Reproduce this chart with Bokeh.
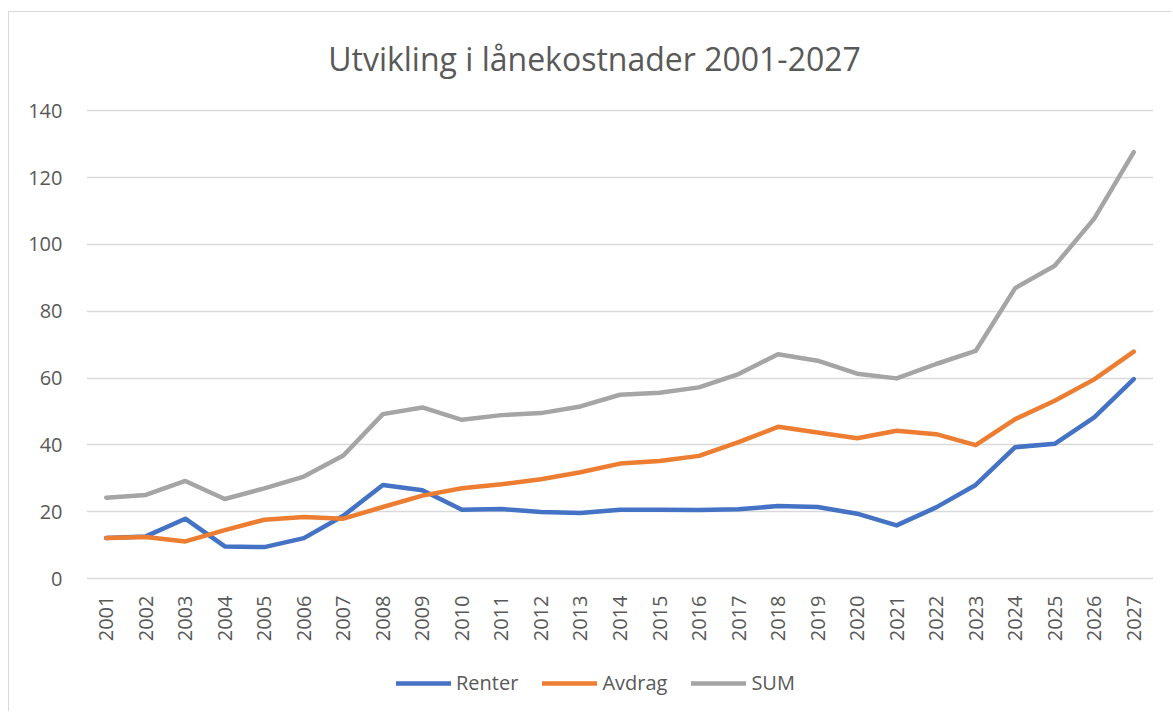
from math import pi
from bokeh.plotting import figure
from bokeh.models import FactorRange, Range1d, FixedTicker, Legend, LegendItem, Label, ColumnDataSource
from bokeh.core.properties import value
from bokeh.embed import file_html
from bokeh.resources import INLINE

years = [str(y) for y in range(2001, 2028)]
renter = [12.1, 12.6, 17.9, 9.6, 9.4, 12.1, 18.8, 28.0, 26.4, 20.6, 20.8, 19.9, 19.6, 20.6,
          20.6, 20.5, 20.7, 21.7, 21.4, 19.4, 15.9, 21.3, 28.0, 39.3, 40.3, 48.2, 59.7]
avdrag = [12.1, 12.4, 11.1, 14.5, 17.6, 18.4, 17.9, 21.4, 24.8, 27.0, 28.2, 29.7, 31.8, 34.4,
          35.2, 36.7, 40.8, 45.4, 43.7, 42.0, 44.2, 43.2, 39.9, 47.7, 53.2, 59.6, 67.9]
total = [24.2, 25.0, 29.2, 23.8, 27.0, 30.5, 36.8, 49.2, 51.2, 47.5, 48.9, 49.5, 51.5, 55.0,
         55.6, 57.2, 61.2, 67.1, 65.2, 61.3, 59.9, 64.2, 68.1, 86.9, 93.6, 107.7, 127.6]
series_names = ["Renter", "Avdrag", "SUM"]
colors = ["#4472C4", "#ED7D31", "#A5A5A5"]
y_ticks = [0, 20, 40, 60, 80, 100, 120, 140]
title_text = "Utvikling i lånekostnader 2001-2027"

FONT = "Open Sans"
TXT = "#595959"

# frame spans the full canvas height so that title and legend (inside it) are not clipped
p = figure(width=1163, height=700, x_range=FactorRange(factors=years), y_range=Range1d(-40.1, 169.4),
           output_backend="svg", toolbar_location=None, title=None,
           min_border_left=77, min_border_right=19, min_border_top=0, min_border_bottom=0)
p.outline_line_color = None
p.background_fill_color = "white"
p.border_fill_color = "white"
p.styles = {"border-top": "1.5px solid #d9d9d9", "border-left": "1.5px solid #d9d9d9",
            "margin-top": "11px", "margin-left": "8px"}

renderers = []
for name, vals, c in zip(series_names, [renter, avdrag, total], colors):
    r = p.line(years, vals, line_color=c, line_width=4.5, line_cap="round", line_join="round")
    renderers.append(r)

p.xaxis.visible = False
p.xgrid.visible = False
p.ygrid.grid_line_color = "#d9d9d9"
p.ygrid.grid_line_width = 1.5
p.yaxis.ticker = FixedTicker(ticks=y_ticks)

ax = p.yaxis[0]
ax.axis_line_color = None
ax.major_tick_line_color = None
ax.minor_tick_line_color = None
ax.major_tick_out = 0
ax.major_tick_in = 0
ax.major_label_text_font = FONT
ax.major_label_text_font_size = "20px"
ax.major_label_text_color = TXT
ax.major_label_standoff = 24

# category (year) labels under the zero line
src = ColumnDataSource(dict(x=years, y=[y_ticks[0]] * len(years), t=years))
p.text(x="x", y="y", text="t", source=src, angle=pi / 2, y_offset=17,
       text_align="right", text_baseline="middle", text_font=value(FONT),
       text_font_size="20px", text_color=TXT)

title = Label(x=508, y=654, x_units="screen", y_units="screen", text=title_text,
              text_font=FONT, text_font_size="32px", text_color=TXT,
              text_align="center", text_baseline="middle")
p.add_layout(title)

legend = Legend(items=[LegendItem(label=n, renderers=[r]) for n, r in zip(series_names, renderers)],
                location=(310, 16), orientation="horizontal", glyph_width=55, glyph_height=20,
                label_standoff=5, spacing=24, padding=0, margin=0, border_line_color=None,
                background_fill_alpha=0, label_text_font=FONT, label_text_font_size="20px",
                label_text_color=TXT)
p.add_layout(legend, "center")

open("out.html", "w").write(file_html(p, INLINE))
